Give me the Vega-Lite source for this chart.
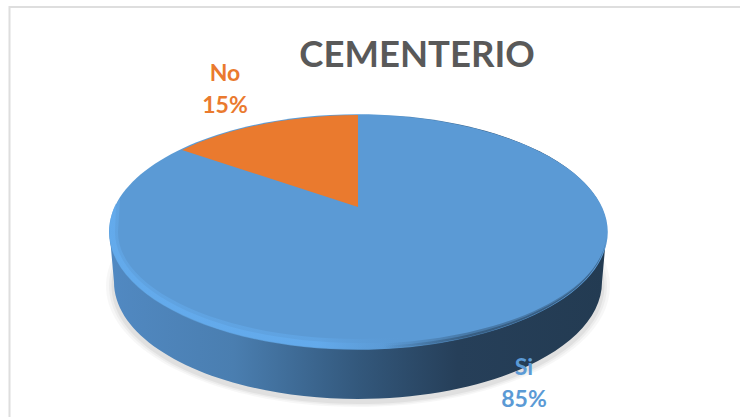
{
"$schema":"https://vega.github.io/schema/vega-lite/v6.json",
"width":740,"height":417,"padding":0,"autosize":{"type":"none"},
"background":"white",
"config":{"view":{"stroke":null},"font":"Lato"},
"title":{"text":"CEMENTERIO","font":"Lato","fontSize":36.5,"fontWeight":"bold","color":"#595959","anchor":"middle","dx":47,"offset":-111,"baseline":"bottom"},
"data":{"values":[{"categoria":"Si","porcentaje":0.85},{"categoria":"No","porcentaje":0.15}]},
"layer":[
{"transform":[{"filter":"datum.categoria === 'Si'"}],"mark":{"type":"point","filled":false,"size":4,"opacity":1,"stroke":"#dedede","strokeWidth":2,"fill":null,"shape":"M -360.5 208.5 L -360.5 -201.5 L 370 -201.5"}},
{"transform":[{"filter":"datum.categoria === 'Si'"}],"mark":{"type":"point","filled":true,"size":4,"opacity":0.03,"fill":"#000","strokeWidth":0,"shape":"M -264 77.5 A 252 121 0 1 1 240 77.5 A 252 121 0 1 1 -264 77.5 Z"}},
{"transform":[{"filter":"datum.categoria === 'Si'"}],"mark":{"type":"point","filled":true,"size":4,"opacity":0.04,"fill":"#000","strokeWidth":0,"shape":"M -261 77.5 A 249 119.5 0 1 1 237 77.5 A 249 119.5 0 1 1 -261 77.5 Z"}},
{"transform":[{"filter":"datum.categoria === 'Si'"}],"mark":{"type":"point","filled":true,"size":4,"opacity":0.05,"fill":"#000","strokeWidth":0,"shape":"M -258.5 77.5 A 246.5 118 0 1 1 234.5 77.5 A 246.5 118 0 1 1 -258.5 77.5 Z"}},
{"transform":[{"filter":"datum.categoria === 'Si'"}],"mark":{"type":"point","filled":true,"size":4,"opacity":1,"strokeWidth":0,"fill":{"gradient":"linear","x1":0,"y1":0,"x2":1,"y2":0,"stops":[{"offset":0,"color":"#5189c2"},{"offset":0.25,"color":"#4a7eb0"},{"offset":0.5,"color":"#33587c"},{"offset":0.7,"color":"#263f59"},{"offset":1,"color":"#233b52"}]},"shape":"M -260.5 23.5 L -256 73.5 A 244 117 0 0 0 232 73.5 L 236.5 23.5 Z"}},
{"transform":[{"filter":"datum.categoria === 'Si'"}],"mark":{"type":"point","filled":true,"size":4,"opacity":1,"strokeWidth":0,"fill":{"gradient":"linear","x1":0,"y1":0,"x2":1,"y2":0,"stops":[{"offset":0,"color":"#5b9bd5"},{"offset":0.55,"color":"#5b9bd5"},{"offset":0.85,"color":"#1f3a55"},{"offset":1,"color":"#1f3a55"}]},"shape":"M -261 23.5 A 249 117.8 0 1 1 237 23.5 A 249 117.8 0 1 1 -261 23.5 Z"}},
{"mark":{"type":"point","filled":true,"size":4,"opacity":1,"strokeWidth":0},
 "encoding":{
  "shape":{"field":"categoria","type":"nominal","legend":null,"scale":{"domain":["Si","No"],"range":["M -12 -1.5 L -12 -93.5 A 248.5 117 0 1 1 -188 -58.5 Z","M -12 -1.5 L -12 -93.5 A 248.5 117 0 0 0 -188 -58.5 Z"]}},
  "color":{"field":"categoria","type":"nominal","legend":null,"scale":{"domain":["Si","No"],"range":["#5b9ad5","#ea7a2e"]}}
 }},
{"transform":[{"filter":"datum.categoria === 'Si'"}],"mark":{"type":"point","filled":true,"size":4,"opacity":1,"strokeWidth":0,"fill":{"gradient":"linear","x1":0,"y1":0,"x2":1,"y2":0,"stops":[{"offset":0,"color":"rgba(100,172,238,0.5)"},{"offset":0.42,"color":"rgba(100,172,238,0.5)"},{"offset":0.6,"color":"rgba(91,154,213,0)"},{"offset":1,"color":"rgba(91,154,213,0)"}]},"shape":"M -250 -10 C -256 0 -260.5 12 -260.5 23.5 C -260.5 88.1 -149.2 140.5 -12 140.5 C 125.2 140.5 236.5 88.1 236.5 23.5 L 228 23.5 C 228 82.6 120.5 130.5 -12 130.5 C -144.5 130.5 -252 82.6 -252 23.5 Z"}},
{"transform":[{"filter":"datum.categoria === 'Si'"}],"mark":{"type":"point","filled":true,"size":4,"opacity":1,"strokeWidth":0,"fill":{"gradient":"linear","x1":0,"y1":0,"x2":1,"y2":0,"stops":[{"offset":0,"color":"rgba(100,172,238,0.8)"},{"offset":0.42,"color":"rgba(100,172,238,0.8)"},{"offset":0.6,"color":"rgba(91,154,213,0)"},{"offset":1,"color":"rgba(91,154,213,0)"}]},"shape":"M -254 -5 C -258 3 -260.5 12 -260.5 23.5 C -260.5 88.1 -149.2 140.5 -12 140.5 C 125.2 140.5 236.5 88.1 236.5 23.5 L 231 23.5 C 231 85 122 134.5 -12 134.5 C -146 134.5 -255 85 -255 23.5 Z"}},
{"transform":[{"filter":"datum.categoria === 'Si'"}],"mark":{"type":"point","filled":true,"size":4,"opacity":1,"strokeWidth":0,"fill":{"gradient":"linear","x1":0,"y1":0,"x2":1,"y2":0,"stops":[{"offset":0,"color":"rgba(35,60,85,0)"},{"offset":0.55,"color":"rgba(35,60,85,0)"},{"offset":0.72,"color":"rgba(35,60,85,0.35)"},{"offset":1,"color":"rgba(35,60,85,0.35)"}]},"shape":"M -260.5 23.5 C -260.5 88.1 -149.2 140.5 -12 140.5 C 125.2 140.5 236.5 88.1 236.5 23.5 C 236.5 85.4 125.2 135.5 -12 135.5 C -149.2 135.5 -260.5 85.4 -260.5 23.5 Z"}},
{"transform":[{"filter":"datum.categoria === 'Si'"}],"mark":{"type":"point","filled":true,"size":4,"opacity":1,"strokeWidth":0,"fill":{"gradient":"linear","x1":0,"y1":0,"x2":1,"y2":0,"stops":[{"offset":0,"color":"rgba(35,60,85,0)"},{"offset":0.55,"color":"rgba(35,60,85,0)"},{"offset":0.72,"color":"rgba(35,60,85,0.45)"},{"offset":1,"color":"rgba(35,60,85,0.45)"}]},"shape":"M -260.5 23.5 C -260.5 88.1 -149.2 140.5 -12 140.5 C 125.2 140.5 236.5 88.1 236.5 23.5 C 236.5 86.7 125.2 138 -12 138 C -149.2 138 -260.5 86.7 -260.5 23.5 Z"}},
{"mark":{"type":"text","font":"Lato","fontSize":23,"fontWeight":"bold","align":"center","baseline":"middle"},
 "encoding":{
  "x":{"field":"categoria","type":"nominal","axis":null,"scale":{"type":"point","padding":0,"domain":["No","Si"],"range":[225,524]}},
  "y":{"field":"categoria","type":"nominal","axis":null,"scale":{"type":"point","padding":0,"domain":["No","Si"],"range":[74,368]}},
  "text":{"field":"categoria"},
  "color":{"field":"categoria","type":"nominal","legend":null,"scale":{"domain":["Si","No"],"range":["#5b9ad5","#ed7d31"]}}
 }},
{"mark":{"type":"text","font":"Lato","fontSize":23,"fontWeight":"bold","align":"center","baseline":"middle","dy":32},
 "encoding":{
  "x":{"field":"categoria","type":"nominal","axis":null,"scale":{"type":"point","padding":0,"domain":["No","Si"],"range":[225,524]}},
  "y":{"field":"categoria","type":"nominal","axis":null,"scale":{"type":"point","padding":0,"domain":["No","Si"],"range":[74,368]}},
  "text":{"field":"porcentaje","type":"quantitative","format":".0%"},
  "color":{"field":"categoria","type":"nominal","legend":null,"scale":{"domain":["Si","No"],"range":["#5b9ad5","#ed7d31"]}}
 }}
]
}
